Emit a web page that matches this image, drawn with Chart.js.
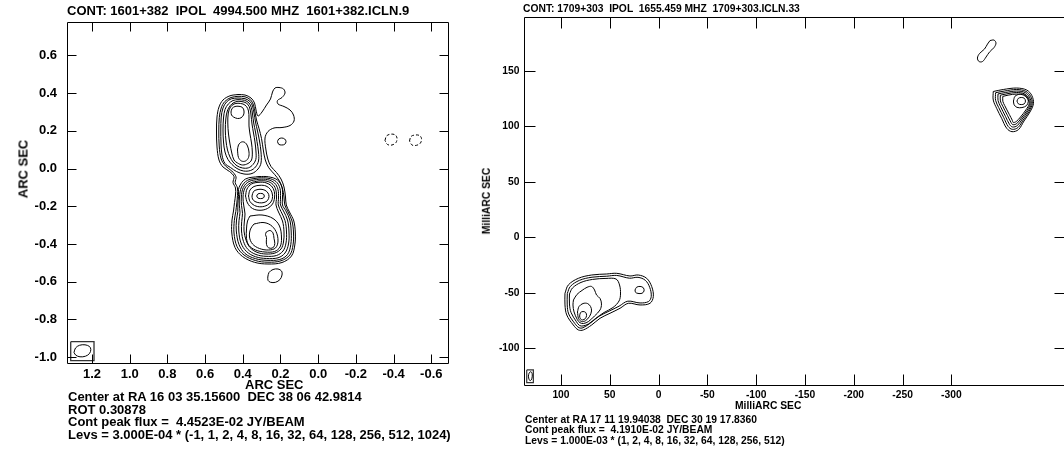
<!DOCTYPE html>
<html><head><meta charset="utf-8">
<script src="https://cdn.jsdelivr.net/npm/chart.js@4.4.1/dist/chart.umd.min.js"></script>
<style>
html,body{margin:0;padding:0;background:#fff;overflow:hidden;width:1064px;height:453px;position:relative;}
canvas{position:absolute;left:0;top:0;}
.t{position:absolute;font-family:"Liberation Sans",Arial,Helvetica,sans-serif;font-weight:bold;color:#000;white-space:pre;line-height:1;}
.l{font-size:13px;}
.r{font-size:10.3px;}
.rot{transform:translate(-50%,-50%) rotate(-90deg);}
</style></head><body>
<canvas id="c1" width="1064" height="453"></canvas>
<canvas id="c2" width="1090" height="453"></canvas>
<div class="t l" style="left:67px;top:4px">CONT: 1601+382  IPOL  4994.500 MHZ  1601+382.ICLN.9</div>
<div class="t l rot" style="left:22.5px;top:169px">ARC SEC</div>
<div class="t l" style="left:245px;top:378px">ARC SEC</div>
<div class="t l" style="left:68px;top:390px">Center at RA 16 03 35.15600  DEC 38 06 42.9814</div>
<div class="t l" style="left:68px;top:402.5px">ROT 0.30878</div>
<div class="t l" style="left:68px;top:415px">Cont peak flux =  4.4523E-02 JY/BEAM</div>
<div class="t l" style="left:68px;top:427.5px">Levs = 3.000E-04 * (-1, 1, 2, 4, 8, 16, 32, 64, 128, 256, 512, 1024)</div>
<div class="t r" style="left:523px;top:4px">CONT: 1709+303  IPOL  1655.459 MHZ  1709+303.ICLN.33</div>
<div class="t r rot" style="left:487px;top:201px">MilliARC SEC</div>
<div class="t r" style="left:735px;top:401.3px">MilliARC SEC</div>
<div class="t r" style="left:525px;top:414.6px">Center at RA 17 11 19.94038  DEC 30 19 17.8360</div>
<div class="t r" style="left:525px;top:425.3px">Cont peak flux =  4.1910E-02 JY/BEAM</div>
<div class="t r" style="left:525px;top:435.8px">Levs = 1.000E-03 * (1, 2, 4, 8, 16, 32, 64, 128, 256, 512)</div>
<script>
// ---------- tick values ----------
const leftXTicks = [1.2, 1.0, 0.8, 0.6, 0.4, 0.2, 0.0, -0.2, -0.4, -0.6];
const leftYTicks = [0.6, 0.4, 0.2, 0.0, -0.2, -0.4, -0.6, -0.8, -1.0];
const rightXTicks = [100, 50, 0, -50, -100, -150, -200, -250, -300];
const rightYTicks = [150, 100, 50, 0, -50, -100];
const leftXRange = [-0.6886, 1.3326];
const leftYRange = [-1.0313, 0.7777];
const rightXRange = [-415.9, 138.4];
const rightYRange = [-133.1, 198.4];

// ---------- 1601+382 contours (arcsec offsets) ----------
const a_lev1 = [[0.4254,0.3931],[0.3883,0.3904],[0.3564,0.3745],[0.3379,0.3480],[0.3299,0.3109],[0.3193,0.2790],[0.2981,0.3002],[0.2742,0.3374],[0.2530,0.3692],[0.2424,0.4063],[0.2291,0.4276],[0.2079,0.4302],[0.1840,0.4223],[0.1761,0.4010],[0.1920,0.3772],[0.2159,0.3612],[0.2132,0.3427],[0.1814,0.3294],[0.1495,0.3109],[0.1310,0.2843],[0.1283,0.2525],[0.1495,0.2286],[0.1920,0.2180],[0.2344,0.2154],[0.2663,0.1968],[0.2822,0.1623],[0.2779,0.1040],[0.2673,0.0509],[0.2503,0.0111],[0.2212,-0.0207],[0.1973,-0.0552],[0.1814,-0.0976],[0.1734,-0.1507],[0.1692,-0.1931],[0.1522,-0.2303],[0.1294,-0.2780],[0.1214,-0.3417],[0.1241,-0.4053],[0.1416,-0.4637],[0.1920,-0.4982],[0.2663,-0.5061],[0.3379,-0.4971],[0.4015,-0.4663],[0.4413,-0.4186],[0.4583,-0.3417],[0.4572,-0.2727],[0.4493,-0.2250],[0.4440,-0.1799],[0.4387,-0.1401],[0.4387,-0.1029],[0.4519,-0.0738],[0.4466,-0.0419],[0.4705,-0.0154],[0.5050,0.0085],[0.5262,0.0456],[0.5368,0.1146],[0.5395,0.1994],[0.5368,0.2737],[0.5262,0.3268],[0.5050,0.3639],[0.4679,0.3862]];
const a_lev2 = [[0.4254,0.3835],[0.3883,0.3809],[0.3591,0.3650],[0.3432,0.3374],[0.3352,0.3002],[0.3273,0.2578],[0.3140,0.2127],[0.3007,0.1597],[0.2912,0.0987],[0.2806,0.0456],[0.2620,0.0042],[0.2318,-0.0303],[0.2063,-0.0647],[0.1904,-0.1029],[0.1814,-0.1507],[0.1771,-0.1931],[0.1602,-0.2292],[0.1389,-0.2780],[0.1310,-0.3417],[0.1336,-0.4053],[0.1506,-0.4584],[0.1973,-0.4891],[0.2663,-0.4966],[0.3336,-0.4876],[0.3936,-0.4584],[0.4307,-0.4133],[0.4466,-0.3417],[0.4450,-0.2754],[0.4371,-0.2276],[0.4318,-0.1825],[0.4281,-0.1427],[0.4281,-0.1029],[0.4403,-0.0738],[0.4360,-0.0435],[0.4583,-0.0128],[0.4917,0.0138],[0.5145,0.0509],[0.5251,0.1199],[0.5273,0.1994],[0.5246,0.2711],[0.5145,0.3215],[0.4954,0.3559],[0.4625,0.3772]];
const a_north3 = [[0.4254,0.3745],[0.3883,0.3708],[0.3618,0.3559],[0.3485,0.3321],[0.3405,0.2949],[0.3326,0.2472],[0.3220,0.1994],[0.3114,0.1464],[0.3034,0.0880],[0.3034,0.0297],[0.3193,-0.0021],[0.3511,-0.0260],[0.3936,-0.0287],[0.4334,-0.0154],[0.4652,0.0058],[0.4944,0.0270],[0.5103,0.0721],[0.5156,0.1358],[0.5167,0.2048],[0.5145,0.2737],[0.5050,0.3215],[0.4864,0.3533],[0.4599,0.3703]];
const a_north4 = [[0.4254,0.3660],[0.3909,0.3623],[0.3671,0.3480],[0.3549,0.3241],[0.3485,0.2896],[0.3421,0.2419],[0.3326,0.1941],[0.3246,0.1437],[0.3167,0.0880],[0.3167,0.0403],[0.3326,0.0085],[0.3591,-0.0101],[0.3962,-0.0128],[0.4307,0.0005],[0.4572,0.0217],[0.4785,0.0483],[0.4944,0.0880],[0.5023,0.1411],[0.5050,0.2048],[0.5023,0.2684],[0.4944,0.3135],[0.4769,0.3427],[0.4519,0.3612]];
const a_north5 = [[0.4254,0.3575],[0.3936,0.3533],[0.3724,0.3400],[0.3618,0.3162],[0.3564,0.2843],[0.3511,0.2366],[0.3432,0.1888],[0.3352,0.1411],[0.3299,0.0880],[0.3310,0.0483],[0.3458,0.0217],[0.3697,0.0042],[0.4015,0.0032],[0.4307,0.0148],[0.4519,0.0350],[0.4679,0.0615],[0.4811,0.0987],[0.4891,0.1464],[0.4928,0.2048],[0.4901,0.2631],[0.4822,0.3055],[0.4663,0.3347],[0.4466,0.3506]];
const a_north6 = [[0.4254,0.3469],[0.3989,0.3427],[0.3803,0.3294],[0.3697,0.3055],[0.3671,0.2684],[0.3671,0.2260],[0.3618,0.1835],[0.3538,0.1358],[0.3495,0.0880],[0.3538,0.0456],[0.3724,0.0270],[0.4015,0.0191],[0.4281,0.0297],[0.4466,0.0456],[0.4583,0.0827],[0.4679,0.1305],[0.4758,0.1835],[0.4795,0.2419],[0.4769,0.2949],[0.4652,0.3268],[0.4466,0.3427]];
const a_northPeakA = [[0.4625,0.3002],[0.4572,0.3188],[0.4413,0.3294],[0.4201,0.3305],[0.4015,0.3241],[0.3936,0.3055],[0.3962,0.2843],[0.4095,0.2695],[0.4281,0.2658],[0.4493,0.2737],[0.4599,0.2843]];
const a_northPeakB = [[0.4281,0.0987],[0.4228,0.1252],[0.4068,0.1411],[0.3883,0.1384],[0.3750,0.1199],[0.3671,0.0880],[0.3697,0.0589],[0.3856,0.0403],[0.4068,0.0403],[0.4228,0.0589]];
const a_south3 = [[0.3140,-0.0419],[0.2636,-0.0435],[0.2159,-0.0605],[0.1920,-0.1003],[0.1893,-0.1507],[0.1893,-0.1931],[0.1718,-0.2239],[0.1506,-0.2727],[0.1432,-0.3364],[0.1453,-0.4027],[0.1628,-0.4557],[0.2037,-0.4822],[0.2716,-0.4865],[0.3336,-0.4775],[0.3883,-0.4504],[0.4201,-0.4027],[0.4344,-0.3311],[0.4334,-0.2727],[0.4265,-0.2292],[0.4265,-0.1878],[0.4228,-0.1480],[0.4201,-0.1003],[0.3856,-0.0552]];
const a_south4 = [[0.3140,-0.0488],[0.2663,-0.0509],[0.2238,-0.0685],[0.2026,-0.1056],[0.1999,-0.1560],[0.1999,-0.1931],[0.1840,-0.2250],[0.1628,-0.2727],[0.1549,-0.3364],[0.1575,-0.4000],[0.1761,-0.4478],[0.2132,-0.4732],[0.2742,-0.4769],[0.3326,-0.4674],[0.3803,-0.4398],[0.4095,-0.3947],[0.4212,-0.3311],[0.4201,-0.2754],[0.4148,-0.2329],[0.4185,-0.1931],[0.4175,-0.1507],[0.4068,-0.0976],[0.3750,-0.0621]];
const a_south5 = [[0.3140,-0.0563],[0.2689,-0.0584],[0.2318,-0.0764],[0.2132,-0.1109],[0.2106,-0.1560],[0.2116,-0.1931],[0.1973,-0.2276],[0.1761,-0.2754],[0.1681,-0.3364],[0.1708,-0.3947],[0.1867,-0.4372],[0.2212,-0.4610],[0.2769,-0.4653],[0.3299,-0.4557],[0.3724,-0.4292],[0.3962,-0.3868],[0.4068,-0.3311],[0.4058,-0.2807],[0.4015,-0.2382],[0.4068,-0.1958],[0.4079,-0.1507],[0.3973,-0.1003],[0.3671,-0.0685]];
const a_south6 = [[0.3140,-0.0647],[0.2716,-0.0669],[0.2397,-0.0844],[0.2238,-0.1162],[0.2212,-0.1560],[0.2238,-0.1931],[0.2106,-0.2303],[0.1893,-0.2780],[0.1814,-0.3364],[0.1840,-0.3894],[0.1973,-0.4265],[0.2291,-0.4478],[0.2769,-0.4531],[0.3246,-0.4441],[0.3618,-0.4186],[0.3830,-0.3788],[0.3936,-0.3311],[0.3920,-0.2833],[0.3883,-0.2409],[0.3946,-0.1984],[0.3989,-0.1507],[0.3883,-0.1029],[0.3591,-0.0764]];
const a_core1 = [[0.3856,-0.1454],[0.3777,-0.1082],[0.3538,-0.0817],[0.3140,-0.0727],[0.2769,-0.0754],[0.2477,-0.0923],[0.2328,-0.1215],[0.2318,-0.1560],[0.2424,-0.1878],[0.2689,-0.2117],[0.3087,-0.2212],[0.3485,-0.2117],[0.3750,-0.1825]];
const a_core2 = [[0.3697,-0.1454],[0.3618,-0.1135],[0.3405,-0.0950],[0.3087,-0.0886],[0.2769,-0.0923],[0.2530,-0.1109],[0.2424,-0.1401],[0.2477,-0.1719],[0.2689,-0.1931],[0.3034,-0.2027],[0.3379,-0.1958],[0.3618,-0.1746]];
const a_core3 = [[0.3511,-0.1454],[0.3432,-0.1215],[0.3246,-0.1120],[0.3034,-0.1098],[0.2822,-0.1151],[0.2663,-0.1295],[0.2610,-0.1480],[0.2689,-0.1693],[0.2875,-0.1799],[0.3114,-0.1815],[0.3352,-0.1746],[0.3485,-0.1613]];
const a_core4 = [[0.3262,-0.1454],[0.3204,-0.1348],[0.3060,-0.1316],[0.2912,-0.1348],[0.2859,-0.1454],[0.2912,-0.1560],[0.3060,-0.1592],[0.3204,-0.1560]];
const a_sIn1 = [[0.3618,-0.2515],[0.2981,-0.2462],[0.2397,-0.2647],[0.2053,-0.3045],[0.1946,-0.3682],[0.2026,-0.4159],[0.2318,-0.4398],[0.2822,-0.4425],[0.3326,-0.4319],[0.3671,-0.4080],[0.3803,-0.3708],[0.3803,-0.3204],[0.3750,-0.2780]];
const a_sIn2 = [[0.3405,-0.2939],[0.2928,-0.2860],[0.2530,-0.2992],[0.2238,-0.3337],[0.2132,-0.3841],[0.2265,-0.4212],[0.2636,-0.4319],[0.3114,-0.4239],[0.3485,-0.4000],[0.3644,-0.3629],[0.3591,-0.3204]];
const a_sIn3 = [[0.2753,-0.3364],[0.2556,-0.3284],[0.2397,-0.3417],[0.2344,-0.3708],[0.2302,-0.3974],[0.2371,-0.4175],[0.2546,-0.4228],[0.2705,-0.4133],[0.2753,-0.3894],[0.2742,-0.3655],[0.2795,-0.3496]];
const a_knot = [[0.2159,0.1437],[0.2095,0.1570],[0.1936,0.1623],[0.1777,0.1570],[0.1708,0.1437],[0.1777,0.1289],[0.1936,0.1252],[0.2095,0.1289]];
const a_blobS = [[0.2673,-0.5751],[0.2610,-0.5512],[0.2397,-0.5353],[0.2132,-0.5326],[0.1946,-0.5433],[0.1920,-0.5645],[0.2026,-0.5884],[0.2265,-0.6032],[0.2530,-0.6032],[0.2663,-0.5926]];
const a_neg1 = [[-0.3544,0.1491],[-0.3624,0.1729],[-0.3836,0.1825],[-0.4075,0.1793],[-0.4181,0.1623],[-0.4128,0.1384],[-0.3916,0.1252],[-0.3677,0.1278]];
const a_neg2 = [[-0.4844,0.1464],[-0.4924,0.1703],[-0.5136,0.1782],[-0.5374,0.1756],[-0.5481,0.1597],[-0.5428,0.1358],[-0.5215,0.1236],[-0.4977,0.1252]];
const a_beam = [[1.2954,-0.9756],[1.2875,-0.9517],[1.2663,-0.9374],[1.2371,-0.9348],[1.2132,-0.9438],[1.2063,-0.9597],[1.2132,-0.9809],[1.2344,-0.9952],[1.2636,-0.9984],[1.2859,-0.9899]];
const a_beamBox = [[1.3129,-0.9183],[1.1893,-0.9183],[1.1893,-1.0191],[1.3129,-1.0191]];

// ---------- 1709+303 contours (mas offsets) ----------
const b_ne0 = [[-339.6,177.2],[-343.7,177.6],[-345.7,174.9],[-343.7,170.9],[-339.0,166.8],[-335.5,162.3],[-331.9,158.3],[-328.3,158.3],[-326.7,161.4],[-328.8,165.5],[-333.9,169.5],[-337.0,174.0]];
const b_ne1 = [[-342.9,131.3],[-353.2,133.1],[-366.9,134.4],[-377.2,132.6],[-382.4,127.7],[-384.1,120.4],[-380.5,112.8],[-374.4,104.7],[-368.8,97.0],[-362.1,95.1],[-356.7,98.1],[-351.5,107.1],[-346.4,116.1],[-342.9,123.6]];
const b_ne2 = [[-345.3,130.2],[-354.4,131.7],[-366.9,133.1],[-376.4,131.4],[-381.2,126.9],[-382.9,120.4],[-379.5,113.2],[-373.6,105.6],[-368.2,98.8],[-362.4,97.2],[-358.2,99.8],[-353.5,108.0],[-348.5,116.8],[-345.3,123.3]];
const b_ne3 = [[-347.8,129.1],[-355.6,130.4],[-366.9,131.7],[-375.7,130.3],[-380.0,126.2],[-381.8,120.4],[-378.5,113.7],[-372.6,106.5],[-367.6,100.6],[-362.7,99.3],[-359.6,101.6],[-355.4,108.9],[-350.5,117.5],[-347.8,123.1]];
const b_ne4 = [[-350.2,128.0],[-356.9,129.2],[-366.9,130.4],[-375.0,129.1],[-379.0,125.5],[-380.7,120.4],[-377.5,114.2],[-371.7,107.4],[-367.0,102.4],[-363.0,101.4],[-361.1,103.4],[-357.4,109.8],[-352.6,118.1],[-350.2,122.8]];
const b_ne5 = [[-352.7,126.9],[-358.1,128.0],[-366.9,129.0],[-374.3,127.9],[-378.0,124.8],[-379.8,120.4],[-376.4,114.8],[-370.8,108.3],[-366.4,104.2],[-363.3,103.4],[-362.5,105.2],[-359.3,110.7],[-354.6,118.7],[-352.7,122.5]];
const b_ne6 = [[-363.6,122.7],[-365.2,127.0],[-369.8,128.8],[-374.9,128.5],[-378.0,125.9],[-378.8,122.2],[-377.0,118.6],[-372.3,116.8],[-367.2,117.0],[-364.3,119.3]];
const b_ne7 = [[-367.2,122.7],[-368.6,125.1],[-371.6,125.9],[-374.7,125.2],[-375.9,122.7],[-374.7,120.2],[-371.6,119.5],[-368.6,120.2]];
const b_sw1 = [[95.9,-50.5],[92.5,-43.0],[82.2,-37.0],[68.5,-34.0],[53.1,-33.1],[42.9,-32.5],[29.3,-34.9],[20.8,-34.0],[12.2,-37.0],[7.0,-44.5],[5.4,-53.5],[8.8,-59.5],[19.0,-61.0],[31.0,-59.5],[39.5,-64.0],[49.8,-68.5],[60.0,-73.0],[68.5,-79.0],[77.1,-83.5],[82.2,-83.5],[87.4,-79.0],[94.1,-70.0],[95.9,-61.0]];
const b_sw2 = [[93.5,-50.6],[90.4,-44.3],[81.0,-38.8],[68.2,-36.0],[53.1,-35.1],[42.9,-34.4],[29.8,-36.9],[21.1,-36.1],[13.6,-38.8],[9.1,-45.1],[7.5,-53.3],[10.3,-57.9],[19.0,-59.2],[31.5,-57.6],[40.5,-62.1],[50.8,-66.6],[61.0,-71.2],[69.7,-77.2],[77.4,-81.5],[81.5,-81.5],[85.8,-77.7],[92.1,-69.1],[93.6,-61.0]];
const b_sw3 = [[91.3,-51.1],[88.2,-45.7],[79.5,-40.7],[67.7,-38.0],[53.9,-37.1],[43.6,-37.6],[40.0,-43.0],[39.0,-51.1],[40.5,-57.4],[46.7,-63.3],[55.9,-67.8],[64.6,-73.2],[71.8,-78.1],[77.4,-79.9],[81.0,-79.5],[84.3,-75.9],[89.7,-67.8],[91.3,-60.1]];
const b_sw4 = [[87.2,-56.5],[83.6,-51.5],[78.4,-47.9],[73.3,-45.1],[68.7,-44.3],[65.6,-47.5],[63.6,-52.0],[60.0,-55.1],[58.5,-60.1],[60.0,-65.5],[65.6,-70.9],[71.8,-75.9],[76.9,-77.7],[80.5,-77.0],[83.3,-74.1],[86.6,-67.3],[87.7,-61.0]];
const b_sw5 = [[83.1,-67.3],[81.5,-62.4],[77.4,-59.7],[72.8,-59.7],[69.7,-62.4],[68.7,-66.4],[70.8,-71.4],[74.9,-75.2],[79.0,-75.9],[82.0,-73.2]];
const b_sw6 = [[80.9,-70.9],[80.0,-67.9],[77.4,-66.9],[74.7,-67.8],[73.8,-70.5],[75.1,-73.3],[77.9,-74.5],[80.2,-73.4]];
const b_swE = [[24.1,-47.5],[22.6,-45.1],[19.0,-44.3],[15.6,-45.5],[14.9,-48.4],[17.0,-50.5],[21.1,-50.6],[23.6,-49.6]];
const b_beam = [[133.4,-125.1],[132.7,-122.5],[131.4,-121.2],[130.0,-121.8],[129.4,-124.0],[129.9,-127.5],[131.2,-129.1],[132.6,-128.4]];
const b_beamBox = [[135.1,-119.5],[128.3,-119.5],[128.3,-131.0],[135.1,-131.0]];

// ---------- build ----------
const FONT = '"Liberation Sans", Arial, Helvetica, sans-serif';
function loop(pts, opt) {
  const d = pts.map(p => ({x: p[0], y: p[1]}));
  d.push({x: pts[0][0], y: pts[0][1]});
  return Object.assign({data: d, showLine: true, borderColor: '#000', borderWidth: 1,
    pointRadius: 0, pointHoverRadius: 0, fill: false, tension: 0.35}, opt || {});
}
const framePlugin = {
  id: 'frame',
  afterDatasetsDraw(chart, args, o) {
    const ctx = chart.ctx, a = chart.chartArea, xs = chart.scales.x, ys = chart.scales.y;
    const L = Math.round(a.left) + 0.5, R = Math.round(a.right) + 0.5, T = Math.round(a.top) + 0.5, B = Math.round(a.bottom) + 0.5;
    ctx.save();
    ctx.strokeStyle = '#000'; ctx.lineWidth = 1;
    ctx.beginPath();
    ctx.moveTo(L, T); ctx.lineTo(R, T); ctx.lineTo(R, B); ctx.lineTo(L, B); ctx.closePath();
    o.xTicks.forEach(v => { const p = Math.round(xs.getPixelForValue(v)) + 0.5;
      ctx.moveTo(p, T); ctx.lineTo(p, T + o.len); ctx.moveTo(p, B); ctx.lineTo(p, B - o.len); });
    o.yTicks.forEach(v => { const p = Math.round(ys.getPixelForValue(v)) + 0.5;
      ctx.moveTo(L, p); ctx.lineTo(L + o.len, p); ctx.moveTo(R, p); ctx.lineTo(R - o.len, p); });
    ctx.stroke();
    ctx.restore();
  }
};
function makeChart(id, sets, cfg) {
  return new Chart(document.getElementById(id), {
    type: 'scatter',
    data: {datasets: sets},
    plugins: [framePlugin],
    options: {
      responsive: false, animation: false, devicePixelRatio: 1, events: [],
      layout: {padding: cfg.padding},
      plugins: {legend: {display: false}, tooltip: {enabled: false},
        frame: {xTicks: cfg.xTicks, yTicks: cfg.yTicks, len: cfg.len}},
      scales: {
        x: {type: 'linear', reverse: true, min: cfg.xr[0], max: cfg.xr[1],
          grid: {display: false, drawTicks: false, tickLength: 0}, border: {display: false},
          afterBuildTicks: s => { s.ticks = cfg.xTicks.map(v => ({value: v})); },
          afterFit: s => { s.height = cfg.xh; },
          ticks: {padding: cfg.xpad, color: '#000', autoSkip: false, maxRotation: 0,
            font: {family: FONT, size: cfg.fs, weight: 'bold'}, callback: cfg.fmt}},
        y: {type: 'linear', min: cfg.yr[0], max: cfg.yr[1],
          grid: {display: false, drawTicks: false, tickLength: 0}, border: {display: false},
          afterBuildTicks: s => { s.ticks = cfg.yTicks.map(v => ({value: v})); },
          afterFit: s => { s.width = cfg.yw; },
          ticks: {padding: cfg.ypad, color: '#000', autoSkip: false,
            font: {family: FONT, size: cfg.fs, weight: 'bold'}, callback: cfg.fmt}}
      }
    }
  });
}
const leftSets = [a_lev1, a_lev2, a_north3, a_north4, a_north5, a_north6, a_northPeakA, a_northPeakB,
  a_south3, a_south4, a_south5, a_south6, a_core1, a_core2, a_core3, a_core4, a_sIn1, a_sIn2, a_sIn3,
  a_knot, a_blobS, a_beam].map(p => loop(p));
leftSets.push(loop(a_neg1, {borderDash: [3, 2]}), loop(a_neg2, {borderDash: [3, 2]}), loop(a_beamBox, {tension: 0, borderWidth: 1.3, borderColor: '#333'}));
const rightSets = [b_ne0, b_ne1, b_ne2, b_ne3, b_ne4, b_ne5, b_ne6, b_ne7,
  b_sw1, b_sw2, b_sw3, b_sw4, b_sw5, b_sw6, b_swE, b_beam].map(p => loop(p));
rightSets.push(loop(b_beamBox, {tension: 0, borderWidth: 1.2, borderColor: '#333'}));

makeChart('c1', leftSets, {padding: {left: 0, top: 22, right: 616, bottom: 0},
  xr: leftXRange, yr: leftYRange, xTicks: leftXTicks, yTicks: leftYTicks, len: 9,
  xh: 90, yw: 67, xpad: 4, ypad: 10, fs: 13, fmt: v => Number(v).toFixed(1)});
makeChart('c2', rightSets, {padding: {left: 0, top: 17, right: 25.5, bottom: 0},
  xr: rightXRange, yr: rightYRange, xTicks: rightXTicks, yTicks: rightYTicks, len: 11,
  xh: 68, yw: 523.5, xpad: 4, ypad: 4, fs: 10.3, fmt: v => String(v)});
</script>
</body></html>
